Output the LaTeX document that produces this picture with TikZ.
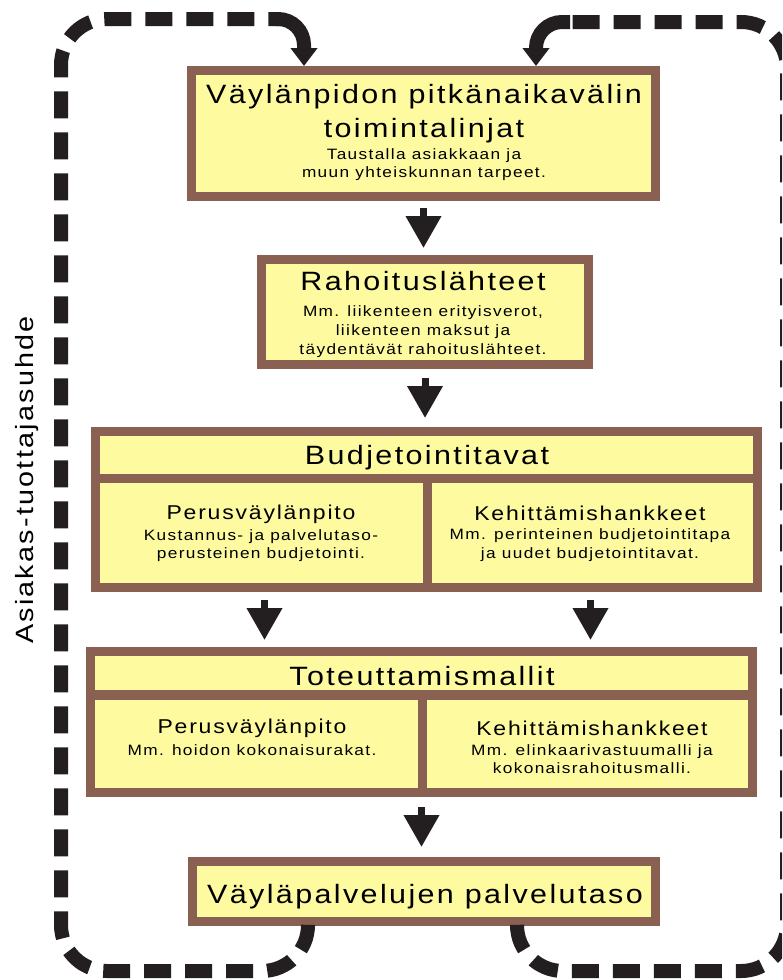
\documentclass[tikz,border=0pt]{standalone}
\usepackage{fontspec}
\setmainfont[FakeStretch=1.15,LetterSpace=9]{Liberation Sans}
\usetikzlibrary{arrows.meta}
\definecolor{bordbrown}{HTML}{8A6053}
\definecolor{boxyel}{HTML}{FDFAA0}
\definecolor{inkblk}{HTML}{231F20}
\tikzset{
  boxn/.style={draw=bordbrown, fill=boxyel, line width=9pt, inner sep=0pt, rectangle},
  ttl/.style={font=\fontsize{26.5}{30}\selectfont, anchor=base, inner sep=0pt},
  sub/.style={font=\fontsize{20}{24}\selectfont, anchor=base, inner sep=0pt},
  sml/.style={font=\fontsize{15}{18}\selectfont, anchor=base, inner sep=0pt},
  blockarrow/.style={draw=inkblk, line width=7pt, -{Triangle[width=34pt,length=32pt]}},
  dashloop/.style={draw=inkblk, line width=14pt, dash pattern=on 27pt off 14pt, rounded corners=46pt},
  looptip/.style={draw=inkblk, line width=14pt, rounded corners=26pt, -{Triangle[width=26pt,length=18pt]}}
}
\begin{document}
\begin{tikzpicture}[x=1pt,y=-1pt]
\clip (0,0) rectangle (782,980);
\fill[white] (0,0) rectangle (782,980);

% boxes
\node[boxn, minimum width=464pt, minimum height=126pt] (b1) at (423.5,133.5) {};
\node[boxn, minimum width=327pt, minimum height=105pt] (b2) at (425,312) {};
\node[boxn, minimum width=662pt, minimum height=47pt] (b3h) at (426.5,455) {};
\node[boxn, minimum width=332pt, minimum height=109pt] (b3l) at (261.5,533) {};
\node[boxn, minimum width=330pt, minimum height=109pt] (b3r) at (592.5,533) {};
\node[boxn, minimum width=662pt, minimum height=43pt] (b4h) at (421.5,673) {};
\node[boxn, minimum width=332pt, minimum height=97pt] (b4l) at (256.5,744) {};
\node[boxn, minimum width=330pt, minimum height=97pt] (b4r) at (587.5,744) {};
\node[boxn, minimum width=463pt, minimum height=60pt] (b5) at (424,891.5) {};

% texts
\node[ttl] (t1a) at (424,103) {Väylänpidon pitkänaikavälin};
\node[ttl] (t1b) at (424,137) {toimintalinjat};
\node[sml] (t1c) at (424,159) {Taustalla asiakkaan ja};
\node[sml] (t1d) at (424,177) {muun yhteiskunnan tarpeet.};

\node[ttl] (t2a) at (423,290) {Rahoituslähteet};
\node[sml] (t2b) at (423,316) {Mm. liikenteen erityisverot,};
\node[sml] (t2c) at (423,335) {liikenteen maksut ja};
\node[sml] (t2d) at (423,354) {täydentävät rahoituslähteet.};

\node[ttl] (t3h) at (427,464) {Budjetointitavat};
\node[sub] (t3la) at (261,519) {Perusväylänpito};
\node[sml] (t3lb) at (261,540) {Kustannus- ja palvelutaso-};
\node[sml] (t3lc) at (261,558) {perusteinen budjetointi.};
\node[sub] (t3ra) at (590,520) {Kehittämishankkeet};
\node[sml] (t3rb) at (590,539) {Mm. perinteinen budjetointitapa};
\node[sml] (t3rc) at (590,558) {ja uudet budjetointitavat.};

\node[ttl] (t4h) at (422,685) {Toteuttamismallit};
\node[sub] (t4la) at (252,733) {Perusväylänpito};
\node[sml] (t4lb) at (252,755) {Mm. hoidon kokonaisurakat.};
\node[sub] (t4ra) at (592,735) {Kehittämishankkeet};
\node[sml] (t4rb) at (592,755) {Mm. elinkaarivastuumalli ja};
\node[sml] (t4rc) at (592,773) {kokonaisrahoitusmalli.};

\node[ttl] (t5) at (425,903) {Väyläpalvelujen palvelutaso};

\node[rotate=90, anchor=base, inner sep=0pt, font=\fontsize{25}{30}\selectfont] (side) at (33,480) {Asiakas-tuottajasuhde};

% block arrows
\draw[blockarrow] ([yshift=-7pt]b1.south) -- ([yshift=7pt]b1.south |- b2.north);
\draw[blockarrow] ([yshift=-9pt]b2.south) -- ([yshift=9pt]b2.south |- b3h.north);
\draw[blockarrow] ([xshift=3pt,yshift=-8pt]b3l.south) -- ([xshift=3pt,yshift=7pt]b3l.south |- b4h.north);
\draw[blockarrow] ([xshift=-2pt,yshift=-8pt]b3r.south) -- ([xshift=-2pt,yshift=7pt]b3r.south |- b4h.north);
\coordinate (a4s) at (b4h.south |- b4l.south);
\coordinate (a4e) at (b4h.south |- b5.north);
\draw[blockarrow] ([yshift=-10pt]a4s) -- ([yshift=10pt]a4e);

% feedback loops
\coordinate (l0) at ([xshift=-116pt]b5.south);
\coordinate (lt) at ([xshift=-119.5pt]b1.north);
\coordinate (r0) at ([xshift=93pt]b5.south);
\coordinate (rt) at ([xshift=112.5pt]b1.north);
\draw[dashloop] (l0) |- (61,971) -- (61,19) -- (280,19);
\draw[looptip] (276,19) -| (lt);
\draw[dashloop] (r0) |- (787,971) -- (787,22) -- (566,22);
\draw[looptip] (570,22) -| (rt);
\end{tikzpicture}
\end{document}
